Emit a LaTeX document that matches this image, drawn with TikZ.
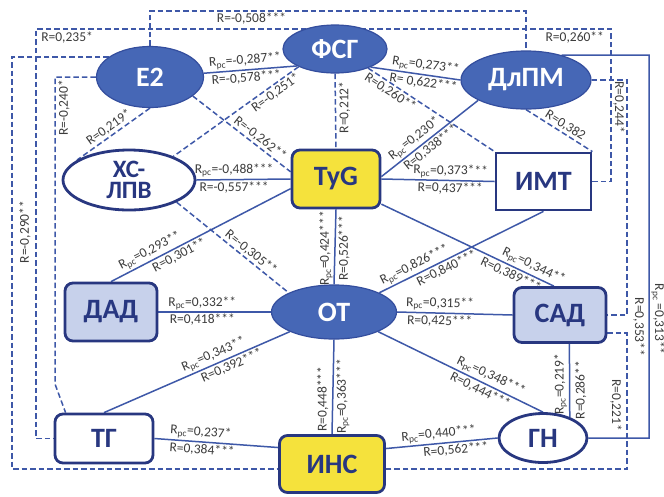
\documentclass[tikz,border=0pt]{standalone}
\usepackage{fontspec}
\setmainfont{Carlito}
\usetikzlibrary{shapes.geometric,backgrounds}
\definecolor{nblue}{RGB}{70,103,182}
\definecolor{nblueb}{RGB}{52,78,158}
\definecolor{navy}{RGB}{40,55,128}
\definecolor{lcol}{RGB}{62,88,168}
\definecolor{ylw}{RGB}{245,226,60}
\definecolor{lblue}{RGB}{199,209,235}
\definecolor{lgray}{RGB}{60,60,60}
\tikzset{
  nfont/.style={font=\bfseries\fontsize{28}{28}\selectfont},
  bluell/.style={ellipse, fill=nblue, draw=nblueb, line width=1.2pt, text=white, nfont, inner sep=0pt},
  whiteell/.style={ellipse, fill=white, draw=navy, line width=2.8pt, text=navy, nfont, inner sep=0pt},
  wbox/.style={rectangle, fill=white, draw=navy, line width=2.8pt, text=navy, nfont, inner sep=0pt},
  ybox/.style={wbox, fill=ylw, rounded corners=8pt},
  lbbox/.style={wbox, fill=lblue, rounded corners=8pt},
  rwbox/.style={wbox, rounded corners=8pt},
  lab/.style={font=\fontsize{13.5}{14}\selectfont, text=lgray, inner sep=1.5pt},
  sline/.style={draw=lcol, line width=1.5pt},
  dline/.style={draw=lcol, line width=1.5pt, dash pattern=on 5.5pt off 3pt}
}
\begin{document}
\begin{tikzpicture}[x=1pt,y=-1pt]
\useasboundingbox (0,0) rectangle (664,496);
% nodes
\node[bluell, minimum width=107pt, minimum height=61pt] (E2) at (150,77) {E2};
\node[bluell, minimum width=104pt, minimum height=48pt] (FSG) at (335,49) {ФСГ};
\node[bluell, minimum width=130pt, minimum height=58pt] (DLPM) at (526,80) {ДлПМ};
\node[whiteell, minimum width=132pt, minimum height=60pt, align=center, font=\bfseries\fontsize{25}{21}\selectfont] (XC) at (129,180) {ХС-\\ЛПВ};
\node[ybox, minimum width=88pt, minimum height=58pt] (TyG) at (336,179) {TyG};
\node[wbox, minimum width=95pt, minimum height=57pt] (IMT) at (543.5,181.5) {ИМТ};
\node[lbbox, minimum width=92pt, minimum height=58pt] (DAD) at (111,312) {ДАД};
\node[bluell, minimum width=125pt, minimum height=54pt] (OT) at (334,312) {ОТ};
\node[lbbox, minimum width=92pt, minimum height=55pt] (SAD) at (560,315) {САД};
\node[rwbox, minimum width=98pt, minimum height=49pt] (TG) at (104,438.5) {ТГ};
\node[ybox, minimum width=105pt, minimum height=57pt] (INS) at (332,464) {ИНС};
\node[whiteell, minimum width=88pt, minimum height=49pt] (GN) at (543,438) {ГН};
% helper coordinates
\coordinate (cTop) at (0,11);
\coordinate (cMid) at (0,29);
\coordinate (cR1) at (611,0);
\coordinate (cR2) at (627,0);
\coordinate (cR3) at (649,55);
\coordinate (cL1) at (12,469);
\coordinate (cL2) at (36,0);
\coordinate (cL3) at (55,384);
\begin{scope}[on background layer]
\fill[white] (0,0) rectangle (664,496);
% orthogonal dashed loops
\draw[dline] (E2.north) -- (E2.north |- cTop) -- node[lab, below, pos=0.27] {R=-0,508***} (DLPM.north |- cTop) -- (DLPM.north);
\draw[dline] (IMT.east) -- (IMT.east -| cR1) -- (cR1 |- cMid) -- node[lab, below, pos=0.063, yshift=-1pt] {R=0,260**} node[lab, below, pos=0.946, yshift=-1pt] {R=0,235*} (cL2 |- cMid) -- (cL2 |- TG.west) -- (TG.west);
\draw[dline] (E2.154) -- (E2.154 -| cL1) -- node[lab, pos=0.425, xshift=13pt, rotate=90] {R=-0,290**} (cL1) -- (INS.west |- cL1);
\draw[dline] (E2.west) -- (E2.west -| cL3) -- node[lab, pos=0.1, xshift=9pt, rotate=90] {R=-0,240*} (cL3) -- (TG.146);
\draw[dline] (DLPM.east) -- (DLPM.east -| cR2) -- node[lab, pos=0.115, xshift=-8pt, rotate=-90] {R=0,244*} node[lab, pos=1, xshift=12pt, yshift=-12pt, rotate=-90] {R=0,353**} (cR2 |- SAD.east) -- (SAD.east);
\draw[dline] (SAD.339) -- (SAD.339 -| cR2) -- node[lab, pos=0.53, xshift=-11pt, rotate=-90] {R=0,221*} (cR2 |- cL1) -- (INS.east |- cL1);
\draw[sline] (GN.east) -- (GN.east -| cR3) -- node[lab, pos=0.31, xshift=9pt, rotate=-90] {R\textsubscript{pc} =0,313**} (cR3) -- (DLPM.35);
% diagonal and straight connectors
\draw[sline] (E2.4) -- node[lab, sloped, above, pos=0.45] {R\textsubscript{pc}=-0,287**} node[lab, sloped, below, pos=0.45] {R=-0,578***} (FSG.204);
\draw[sline] (FSG.333) -- node[lab, sloped, above, pos=0.6] {R\textsubscript{pc}=0,273**} node[lab, sloped, below, pos=0.6] {R= 0,622***} (DLPM.180);
\draw[dline] (FSG.south) -- node[lab, pos=0.45, xshift=9pt, rotate=90] {R=0,212*} (TyG.north);
\draw[dline] (FSG.206) -- node[lab, sloped, below, pos=0.22] {R=-0,251*} (XC.28);
\draw[dline] (E2.336) -- node[lab, sloped, above, pos=0.64] {R=-0,262**} (TyG.171);
\draw[dline] (FSG.330) -- node[lab, sloped, below, pos=0.21] {R=0,260**} (IMT.north west);
\draw[dline] (DLPM.south) -- node[lab, sloped, above, pos=0.53] {R=0,382} (IMT.north east);
\draw[dline] (E2.south) -- node[lab, sloped, above, pos=0.5] {R=0,219*} (XC.159);
\draw[sline] (TyG.3) -- node[lab, sloped, above, pos=0.4] {R\textsubscript{pc}=0,230*} node[lab, sloped, below, pos=0.46] {R=0,338***} (DLPM.203);
\draw[sline] (XC.east) -- node[lab, above, pos=0.4] {R\textsubscript{pc}=-0,488***} node[lab, below, pos=0.4] {R=-0,557***} (TyG.west);
\draw[sline] (TyG.east) -- node[lab, sloped, above, pos=0.61] {R\textsubscript{pc}=0,373***} node[lab, sloped, below, pos=0.61] {R=0,437***} (IMT.west);
\draw[sline] (TyG.192) -- node[lab, sloped, above, pos=0.76] {R\textsubscript{pc}=0,293**} node[lab, sloped, below, pos=0.64] {R=0,301**} (DAD.north);
\draw[dline] (XC.335) -- node[lab, sloped, above, pos=0.62] {R=-0,305**} (OT.157);
\draw[sline] (TyG.south) -- node[lab, pos=0.52, xshift=-9pt, rotate=90] {R\textsubscript{pc}=0,424***} node[lab, pos=0.52, xshift=9pt, rotate=90] {R=0,526***} (OT.north);
\draw[sline] (TyG.331) -- node[lab, sloped, above, pos=0.86] {R\textsubscript{pc}=0,344**} node[lab, sloped, below, pos=0.77] {R=0,389***} (SAD.102);
\draw[sline] (IMT.south) -- node[lab, sloped, above, pos=0.76] {R\textsubscript{pc}=0,826***} node[lab, sloped, below, pos=0.61] {R=0,840***} (OT.23);
\draw[sline] (DAD.east) -- node[lab, above, pos=0.39] {R\textsubscript{pc}=0,332**} node[lab, below, pos=0.39] {R=0,418***} (OT.west);
\draw[sline] (OT.east) -- node[lab, sloped, above, pos=0.37] {R\textsubscript{pc}=0,315**} node[lab, sloped, below, pos=0.37] {R=0,425***} (SAD.west);
\draw[sline] (TG.north) -- node[lab, sloped, above, pos=0.61] {R\textsubscript{pc}=0,343**} node[lab, sloped, below, pos=0.67] {R=0,392***} (OT.204);
\draw[sline] (OT.south) -- node[lab, pos=0.63, xshift=-10pt, rotate=90] {R=0,448***} node[lab, pos=0.6, xshift=10pt, rotate=90] {R\textsubscript{pc}=0,363***} (INS.north);
\draw[sline] (OT.336) -- node[lab, sloped, above, pos=0.66] {R\textsubscript{pc}=0,348***} node[lab, sloped, below, pos=0.64] {R=0,444***} (GN.north);
\draw[sline] (TG.east) -- node[lab, sloped, above, pos=0.37] {R\textsubscript{pc}=0,237*} node[lab, sloped, below, pos=0.39] {R=0,384***} (INS.163);
\draw[sline] (INS.16) -- node[lab, sloped, above, pos=0.48] {R\textsubscript{pc}=0,440***} node[lab, sloped, below, pos=0.62] {R=0,562***} (GN.west);
\draw[sline] (SAD.288) -- node[lab, pos=0.55, xshift=-9pt, rotate=90] {R\textsubscript{pc}=0,219*} node[lab, pos=0.63, xshift=11pt, rotate=90] {R=0,286**} (GN.38);
\end{scope}
\end{tikzpicture}
\end{document}
